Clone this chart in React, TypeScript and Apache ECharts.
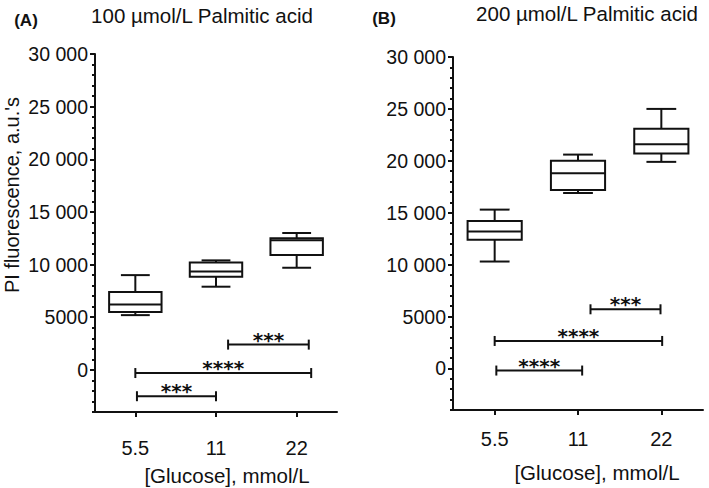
import React, { useEffect, useRef } from "react";
import * as echarts from "echarts";

const categories = ["5.5", "11", "22"];
// [whisker low, Q1, median, Q3, whisker high]
const boxA = [
  [5200, 5500, 6200, 7400, 9000],
  [7900, 8850, 9350, 10200, 10400],
  [9700, 10900, 12300, 12500, 13000],
];
const boxB = [
  [10300, 12400, 13200, 14200, 15300],
  [16900, 17200, 18800, 20000, 20600],
  [19900, 20700, 21600, 23100, 25000],
];
// significance brackets (positions in category units)
const sigFromA = [1.15, 0, 0.02];
const sigToA = [2.15, 2.18, 1.0];
const sigYA = [2400, -300, -2500];
const sigLabelA = ["***", "****", "***"];
const sigFromB = [1.15, 0, 0.02];
const sigToB = [1.99, 2.01, 1.05];
const sigYB = [5700, 2650, -200];
const sigLabelB = ["***", "****", "****"];
const yMin = -4000;
const yMax = 30000;
const majorTicks = [0, 5000, 10000, 15000, 20000, 25000, 30000];

const FONT = "'Liberation Sans', Arial, sans-serif";
const INK = "#111";

function fmt(v: number): string {
  if (v < 0 || v % 5000 !== 0) return "";
  if (v >= 10000) {
    const s = String(v);
    return s.slice(0, s.length - 3) + " " + s.slice(s.length - 3);
  }
  return String(v);
}

function boxRender(data: number[][]) {
  return (params: any, api: any) => {
    const i = params.dataIndex;
    const d = data[i];
    const band = api.size([1, 0])[0];
    const cx = api.coord([i, d[2]])[0];
    const y = (v: number) => api.coord([i, v])[1];
    const bw = band * 0.65;
    const cw = bw * 0.55;
    const st = { stroke: INK, lineWidth: 2, fill: "none" };
    return {
      type: "group",
      children: [
        { type: "line", shape: { x1: cx, y1: y(d[0]), x2: cx, y2: y(d[1]) }, style: st },
        { type: "line", shape: { x1: cx, y1: y(d[3]), x2: cx, y2: y(d[4]) }, style: st },
        { type: "line", shape: { x1: cx - cw / 2, y1: y(d[0]), x2: cx + cw / 2, y2: y(d[0]) }, style: st },
        { type: "line", shape: { x1: cx - cw / 2, y1: y(d[4]), x2: cx + cw / 2, y2: y(d[4]) }, style: st },
        {
          type: "rect",
          shape: { x: cx - bw / 2, y: y(d[3]), width: bw, height: y(d[1]) - y(d[3]) },
          style: { stroke: INK, lineWidth: 2, fill: "#fff" },
        },
        { type: "line", shape: { x1: cx - bw / 2, y1: y(d[2]), x2: cx + bw / 2, y2: y(d[2]) }, style: st },
      ],
    };
  };
}

function sigRender(from: number[], to: number[], ys: number[], labels: string[]) {
  return (params: any, api: any) => {
    const i = params.dataIndex;
    const band = api.size([1, 0])[0];
    const c0 = api.coord([0, ys[i]]);
    const x1 = c0[0] + from[i] * band;
    const x2 = c0[0] + to[i] * band;
    const yy = c0[1];
    const st = { stroke: INK, lineWidth: 2 };
    return {
      type: "group",
      children: [
        { type: "line", shape: { x1, y1: yy, x2, y2: yy }, style: st },
        { type: "line", shape: { x1, y1: yy - 5, x2: x1, y2: yy + 5 }, style: st },
        { type: "line", shape: { x1: x2, y1: yy - 5, x2, y2: yy + 5 }, style: st },
        {
          type: "text",
          x: (x1 + x2) / 2,
          y: yy - 5,
          style: {
            text: labels[i],
            fill: INK,
            font: "bold 20px 'DejaVu Sans', sans-serif",
            align: "center",
            verticalAlign: "middle",
          },
        },
      ],
    };
  };
}

function yAxes(gridIndex: number) {
  return [
    {
      type: "value",
      gridIndex,
      position: "left",
      min: yMin,
      max: yMax,
      interval: 1000,
      axisLine: { show: true, lineStyle: { color: INK, width: 2 } },
      axisTick: { show: true, length: 3, lineStyle: { color: INK, width: 2 } },
      splitLine: { show: false },
      axisLabel: { formatter: fmt, color: INK, fontSize: 19.5, fontFamily: FONT, margin: 7 },
    },
    {
      type: "value",
      gridIndex,
      position: "left",
      offset: 0,
      min: yMin,
      max: yMax,
      axisLine: { show: false },
      axisTick: { show: true, length: 5, customValues: majorTicks, lineStyle: { color: INK, width: 2 } },
      splitLine: { show: false },
      axisLabel: { show: false },
    },
  ];
}

function xAxis(gridIndex: number, margin: number) {
  return {
    type: "category",
    gridIndex,
    data: categories,
    boundaryGap: true,
    axisLine: { show: true, onZero: false, lineStyle: { color: INK, width: 2 } },
    axisTick: { show: true, alignWithLabel: true, length: 5, lineStyle: { color: INK, width: 2 } },
    axisLabel: { color: INK, fontSize: 20, fontFamily: FONT, margin },
    splitLine: { show: false },
  };
}

function textEl(text: string, x: number, y: number, size: number, extra: any = {}) {
  return {
    type: "text",
    x,
    y,
    rotation: extra.rotation || 0,
    style: {
      text,
      fill: INK,
      font: `${extra.bold ? "bold " : ""}${size}px ${FONT}`,
      align: extra.align || "center",
      verticalAlign: "middle",
    },
  };
}

export default function App() {
  const ref = useRef<HTMLDivElement>(null);
  useEffect(() => {
    if (!ref.current) return;
    const chart = echarts.init(ref.current, undefined, { renderer: "svg" });
    chart.setOption({
      animation: false,
      backgroundColor: "#fff",
      grid: [
        { left: 95, top: 54, width: 242, height: 358 },
        { left: 453, top: 57, width: 250, height: 353 },
      ],
      xAxis: [xAxis(0, 26), xAxis(1, 19)],
      yAxis: [...yAxes(0), ...yAxes(1)],
      series: [
        {
          type: "custom",
          xAxisIndex: 0,
          yAxisIndex: 0,
          renderItem: boxRender(boxA),
          data: boxA.map((b, i) => [i, ...b]),
          encode: { x: 0, y: [1, 2, 3, 4, 5] },
        },
        {
          type: "custom",
          xAxisIndex: 1,
          yAxisIndex: 2,
          renderItem: boxRender(boxB),
          data: boxB.map((b, i) => [i, ...b]),
          encode: { x: 0, y: [1, 2, 3, 4, 5] },
        },
        {
          type: "custom",
          xAxisIndex: 0,
          yAxisIndex: 0,
          renderItem: sigRender(sigFromA, sigToA, sigYA, sigLabelA),
          data: sigYA.map((v) => [0, v]),
          encode: { x: 0, y: 1 },
        },
        {
          type: "custom",
          xAxisIndex: 1,
          yAxisIndex: 2,
          renderItem: sigRender(sigFromB, sigToB, sigYB, sigLabelB),
          data: sigYB.map((v) => [0, v]),
          encode: { x: 0, y: 1 },
        },
      ],
      graphic: [
        textEl("(A)", 26, 20, 17, { bold: true }),
        textEl("100 µmol/L Palmitic acid", 202, 15, 20.5),
        textEl("(B)", 384, 18, 17, { bold: true }),
        textEl("200 µmol/L Palmitic acid", 587, 13, 20.5),
        textEl("PI fluorescence, a.u.'s", 12, 195, 20, { rotation: Math.PI / 2 }),
        textEl("[Glucose], mmol/L", 227, 475, 20.5),
        textEl("[Glucose], mmol/L", 597, 472, 20.5),
      ],
    });
    return () => chart.dispose();
  }, []);
  return (
    <div
      ref={ref}
      style={{ position: "fixed", left: 0, top: 0, width: 709, height: 488 }}
    />
  );
}
